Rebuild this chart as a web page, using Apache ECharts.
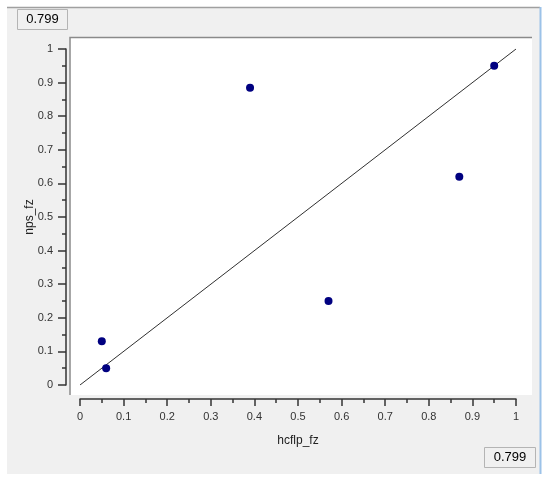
<!DOCTYPE html>
<html>
<head>
<meta charset="utf-8">
<script src="https://cdn.jsdelivr.net/npm/echarts@6/dist/echarts.min.js"></script>
<style>
html,body{margin:0;padding:0;background:#ffffff;}
#chart{width:550px;height:481px;}
</style>
</head>
<body>
<div id="chart"></div>
<script>
// Data
const xName = 'hcflp_fz';
const yName = 'nps_fz';
const xValues = [0.05, 0.06, 0.39, 0.57, 0.87, 0.95];
const yValues = [0.13, 0.05, 0.885, 0.25, 0.62, 0.95];
const fitLine = [[0, 0], [1, 1]];
const boxLabel = '0.799';

const points = xValues.map((x, i) => [x, yValues[i]]);
const font = "'Liberation Sans', Arial, sans-serif";

const chart = echarts.init(document.getElementById('chart'), null, {renderer: 'canvas'});
chart.setOption({
  animation: false,
  backgroundColor: '#ffffff',
  graphic: [
    {type: 'rect', z: -5, shape: {x: 7, y: 7, width: 533, height: 467}, style: {fill: '#f0f0f0'}},
    {type: 'line', z: -4, shape: {x1: 7, y1: 7.5, x2: 540, y2: 7.5}, style: {stroke: '#a0a0a0', lineWidth: 1.5}},
    {type: 'line', z: -4, shape: {x1: 540.5, y1: 7, x2: 540.5, y2: 474}, style: {stroke: '#9cc2e8', lineWidth: 2}},
    {type: 'rect', z: -3, shape: {x: 70, y: 37, width: 462, height: 358}, style: {fill: '#ffffff'}},
    {type: 'polyline', z: -2, shape: {points: [[70, 395], [70, 37.5], [532, 37.5]]}, style: {stroke: '#8a8a8a', lineWidth: 1.5, fill: null}},
    {type: 'rect', z: -2, shape: {x: 17.5, y: 9.5, width: 50, height: 20}, style: {fill: '#f0f0f0', stroke: '#b4b4b4', lineWidth: 1}},
    {type: 'text', z: -1, style: {x: 42.5, y: 19.5, text: boxLabel, align: 'center', verticalAlign: 'middle', font: '13px ' + font, fill: '#000000'}},
    {type: 'rect', z: -2, shape: {x: 484.5, y: 447.5, width: 51, height: 20}, style: {fill: '#f0f0f0', stroke: '#b4b4b4', lineWidth: 1}},
    {type: 'text', z: -1, style: {x: 510, y: 457.5, text: boxLabel, align: 'center', verticalAlign: 'middle', font: '13px ' + font, fill: '#000000'}}
  ],
  grid: {left: 80, right: 34, top: 49, bottom: 96, containLabel: false},
  xAxis: {
    type: 'value', min: 0, max: 1, interval: 0.1,
    offset: 14,
    name: xName, nameLocation: 'middle', nameGap: 36, nameMoveOverlap: false,
    nameTextStyle: {fontFamily: font, fontSize: 12, color: '#222'},
    axisLine: {show: true, onZero: false, lineStyle: {color: '#333', width: 1.5}},
    axisTick: {show: true, inside: false, length: 7, lineStyle: {color: '#333', width: 1.5}},
    minorTick: {show: true, splitNumber: 2, length: 4, lineStyle: {color: '#333', width: 1.5}},
    axisLabel: {margin: 12, fontFamily: font, fontSize: 11, color: '#333',
      formatter: v => String(Math.round(v * 10) / 10)},
    splitLine: {show: false}
  },
  yAxis: {
    type: 'value', min: 0, max: 1, interval: 0.1,
    offset: 14,
    name: yName, nameLocation: 'middle', nameGap: 30, nameRotate: 90, nameMoveOverlap: false,
    nameTextStyle: {fontFamily: font, fontSize: 12, color: '#222'},
    axisLine: {show: true, onZero: false, lineStyle: {color: '#333', width: 1.5}},
    axisTick: {show: true, inside: false, length: 8, lineStyle: {color: '#333', width: 1.5}},
    minorTick: {show: true, splitNumber: 2, length: 4, lineStyle: {color: '#333', width: 1.5}},
    axisLabel: {margin: 13, fontFamily: font, fontSize: 11, color: '#333',
      formatter: v => String(Math.round(v * 10) / 10)},
    splitLine: {show: false}
  },
  series: [
    {
      type: 'line', data: fitLine, symbol: 'none', silent: true,
      lineStyle: {color: '#303030', width: 1}, z: 2
    },
    {
      type: 'scatter', data: points, symbol: 'circle', symbolSize: 8,
      itemStyle: {color: '#000080', opacity: 1}, z: 3
    }
  ]
});
</script>
</body>
</html>
